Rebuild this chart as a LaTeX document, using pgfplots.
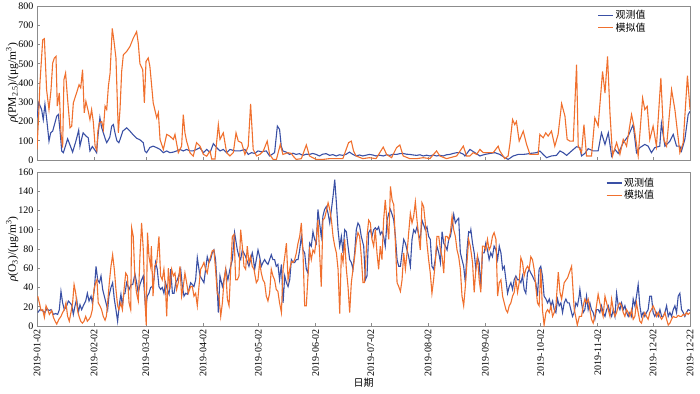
\documentclass[border=0pt]{standalone}
\usepackage{fontspec}
\setmainfont{Liberation Serif}
\newfontfamily\cjk{Noto Sans CJK SC}
\usepackage{pgfplots}
\pgfplotsset{compat=1.18}
\definecolor{obsblue}{RGB}{58,80,165}
\definecolor{simorange}{RGB}{240,112,46}
\definecolor{framegray}{RGB}{140,140,140}
\pgfplotsset{
 common/.style={
  scale only axis, width=653pt, height=154pt,
  xmin=0, xmax=354,
  xtick={0,31,59,90,120,151,181,212,243,273,304,334,354},
  xtick pos=bottom, ytick pos=left,
  axis line style={framegray, line width=0.8pt},
  tick style={framegray, line width=0.6pt},
  major tick length=3pt,
  tick label style={font=\fontsize{10}{12}\selectfont},
  /pgf/number format/assume math mode=true,
  legend style={draw=none, fill=none, font=\cjk\fontsize{10}{12}\selectfont, row sep=-1.5pt, inner sep=0pt, anchor=north west},
  legend cell align=left,
  legend image code/.code={\draw[##1] (0pt,0pt) -- (15pt,0pt);},
  ylabel style={at={(axis description cs:-0.038,0.5)}, anchor=center, font=\fontsize{11.5}{13}\selectfont},
 },
 obs/.style={obsblue, line width=1.1pt},
 sim/.style={simorange, line width=1.1pt},
}
\begin{document}
\begin{tikzpicture}[x=1pt,y=1pt]
\begin{axis}[common, at={(37pt,233pt)}, anchor=south west,
  ymin=0, ymax=800, ytick={0,100,...,800}, xticklabels={},
  ylabel={\textit{ρ}(PM\textsubscript{2.5})/(μg/m\textsuperscript{3})},
  legend style={at={(axis description cs:0.858,0.985)}}]
\addplot[obs] coordinates {(0,220)(1,297)(2.5,262)(3.4,210)(4.3,290)(5.4,200)(6.5,98)(7.4,141)(8.5,150)(9.5,185)(10.7,228)(11.6,236)(12.5,150)(13.4,47)(14.3,38)(15.5,75)(16.6,110)(18,75)(19.3,41)(21,95)(22.6,155)(23.3,72)(24.2,110)(25,141)(26.5,125)(27.8,115)(28.7,47)(30,70)(31.5,50)(32.3,38)(33,120)(34.1,220)(35,170)(36,140)(37,110)(37.8,90)(38.7,105)(39.5,120)(40.5,176)(41.4,184)(42.3,140)(43.3,100)(44.4,90)(45.5,120)(46.5,150)(48.6,167)(50.4,150)(52.2,130)(54,113)(55.8,105)(57.6,90)(58.5,47)(59.4,38)(61.2,65)(63,72)(64.9,64)(66.7,55)(68.5,38)(70.3,47)(72.1,38)(73.9,41)(75.7,47)(77.5,55)(79.3,47)(81.1,55)(82.9,47)(84.7,47)(86.5,55)(88.3,64)(90.2,38)(92,55)(93.8,38)(95.6,85)(97.4,64)(99.2,47)(101,55)(102.8,38)(104.6,55)(107.3,47)(110,47)(112.7,55)(114.5,29)(116.3,38)(118.1,34)(119.8,47)(121.6,43)(124.3,47)(126.1,21)(128.8,38)(130.3,176)(131.5,159)(132.4,72)(133.3,47)(135.1,41)(136.9,29)(138.7,35)(140.5,29)(142.3,33)(144.1,24)(145.9,30)(147.7,29)(149.5,34)(151.3,29)(153.1,21)(154.9,30)(156.7,33)(158.6,24)(160.4,28)(162.2,21)(164,27)(165.8,24)(167.6,30)(169.4,41)(171.2,29)(173,21)(174.8,26)(176.6,21)(178.4,25)(180.2,29)(182,26)(183.8,21)(185.7,25)(187.7,21)(189.5,27)(191.3,24)(193.1,30)(194.9,29)(196.7,33)(198.5,34)(200.3,30)(202.1,29)(204,26)(205.8,24)(207.6,27)(209.4,21)(211.2,25)(213,21)(214.8,26)(216.6,21)(218.4,24)(220.2,21)(222,27)(223.8,29)(225.6,34)(227.5,38)(229.3,38)(231.1,30)(232,21)(234.7,55)(237.4,38)(240.1,21)(242.8,29)(245.5,34)(248.2,38)(250.9,29)(253.6,12)(255.4,3)(258.2,21)(260.9,29)(263.6,29)(265.4,31)(267.2,34)(269,36)(270.8,38)(272.6,47)(274.4,29)(276.2,12)(278.9,21)(281.6,24)(283.5,47)(285.3,38)(287.1,24)(289.8,47)(292.5,69)(294.3,64)(295.2,21)(297,34)(298.8,59)(301.5,47)(304.2,47)(306,141)(307.9,81)(309.7,141)(311.5,21)(313.3,55)(315.1,34)(317.8,90)(320.5,124)(323.2,184)(325,38)(326.8,64)(329.5,81)(331.3,72)(333.1,38)(334.9,64)(337.6,72)(338.5,190)(340.4,72)(343.1,98)(344.9,133)(346.7,72)(348.5,72)(349.4,47)(351.2,107)(353,236)(354,253)};
\addlegendentry{观测值}
\addplot[sim] coordinates {(0,55)(0.9,230)(1.6,400)(3.1,624)(4,630)(5.2,365)(6.5,262)(7.6,365)(8.5,503)(9.4,530)(10.3,538)(11,280)(12.1,348)(13,141)(13.9,65)(14.6,417)(15.5,452)(16.6,314)(17.9,167)(18.8,175)(19.7,297)(21.5,350)(22.8,391)(23.7,375)(24.7,469)(25.6,245)(26.5,305)(27.8,253)(28.7,210)(29.6,262)(30.5,200)(31.5,72)(32.4,50)(33,150)(33.8,193)(35.1,200)(36,160)(36.9,280)(37.8,262)(38.7,383)(39.6,450)(40.8,684)(41.7,620)(42.8,530)(44.1,141)(45,262)(45.9,460)(46.8,546)(48.6,564)(50.4,590)(52.2,633)(54,667)(54.9,607)(55.8,500)(57.3,469)(58.2,297)(59.1,512)(60.3,530)(61.2,486)(63,297)(64.9,219)(65.8,245)(66.7,107)(68.5,55)(70.3,133)(72,124)(73.9,107)(74.8,133)(76.6,38)(78.4,72)(79.3,236)(80.2,141)(81.1,98)(82.9,38)(84.7,20)(86.5,90)(88.4,72)(90.2,29)(92,20)(93.8,47)(94.7,5)(96.5,5)(98.3,184)(99.2,107)(101,141)(102.8,38)(104.6,21)(106.4,38)(107.9,141)(109.1,98)(110.9,90)(112.7,29)(114.5,72)(115.8,291)(117.2,55)(119,21)(120.8,29)(122.7,47)(124.8,98)(126.1,29)(128,3)(129.8,3)(131.9,81)(133.3,29)(136,38)(137.9,34)(138.8,21)(140.5,3)(143.3,7)(146,78)(147.7,21)(151.3,3)(155,3)(158.6,7)(162.2,7)(165.8,7)(168.9,90)(170.4,98)(171.6,47)(173,21)(176.6,7)(180.2,12)(183.8,7)(187.7,67)(189.5,29)(192.2,12)(194.9,64)(196.7,78)(198.5,21)(202.1,7)(205.8,7)(209.4,12)(213,7)(216.6,47)(218.4,21)(222,7)(227.5,21)(231.1,72)(232.9,21)(234.7,21)(236.5,38)(238.3,29)(240.1,55)(241.9,38)(244.6,38)(247.3,38)(250,72)(250.9,47)(253.6,7)(255.4,21)(256.4,86)(257.8,210)(259,184)(259.9,200)(261.4,98)(263.6,150)(265.4,81)(267.2,29)(269.9,29)(271.7,29)(272.6,133)(274.4,115)(275.8,141)(277.1,124)(278.9,150)(280.7,72)(282.5,133)(284.4,293)(286.2,228)(287.4,107)(288.9,98)(290.7,98)(292.5,495)(293.4,72)(295.2,38)(296.5,184)(297.9,21)(300.6,21)(302.4,219)(304.2,176)(306.6,460)(307.9,348)(309.3,538)(310.6,245)(312,21)(314.2,90)(316,29)(317.8,107)(319.6,72)(322.3,236)(323.6,176)(325.9,21)(328.3,322)(329.5,262)(330.8,279)(332.2,107)(334,176)(335.8,72)(338.2,426)(339.8,107)(341.3,72)(344,365)(345.8,262)(348.5,38)(350.3,90)(352.6,438)(354,262)};
\addlegendentry{模拟值}
\end{axis}
\begin{axis}[common, at={(37pt,67pt)}, anchor=south west,
  ymin=0, ymax=160, ytick={0,20,...,160},
  xticklabels={2019-01-02,2019-02-02,2019-03-02,2019-04-02,2019-05-02,2019-06-02,2019-07-02,2019-08-02,2019-09-02,2019-10-02,2019-11-02,2019-12-02,2019-12-22},
  x tick label style={rotate=90, anchor=east},
  xlabel={\cjk 日期},
  xlabel style={at={(axis description cs:0.5,-0.37)}, anchor=center, font=\fontsize{10}{12}\selectfont},
  ylabel={\textit{ρ}(O\textsubscript{3})/(μg/m\textsuperscript{3})},
  legend style={at={(axis description cs:0.871,0.975)}}]
\addplot[obs] coordinates {(0.4,14)(1.6,17)(2.9,16)(4.3,14)(5.4,18)(6.5,16)(7.6,17)(8.9,12)(10.1,13)(11.2,12)(12.1,17)(13,36)(13.9,24)(14.8,17)(16.1,21)(17,26)(17.9,24)(18.8,22)(19.7,12)(20.6,21)(21.5,28)(22.4,14)(23.3,22)(24.2,17)(25.1,21)(26.4,26)(27.3,34)(28.2,26)(29.3,31)(30,24)(31.1,38)(32,62)(32.9,48)(33.8,45)(34.7,52)(35.6,38)(36.5,31)(37.4,24)(38.3,17)(39,31)(40.1,40)(41,45)(41.9,28)(42.8,17)(43.7,5)(44.6,22)(45.5,33)(46.3,21)(47,33)(47.7,34)(48.6,45)(49.9,38)(51,43)(51.9,43)(53.1,54)(54,45)(54.9,34)(55.8,43)(56.7,48)(57.6,52)(58.9,17)(59.8,31)(60.7,34)(61.6,40)(62.5,41)(63.4,48)(64.3,66)(65.2,59)(66.1,41)(67,38)(67.9,40)(68.8,34)(69.7,45)(70.6,38)(71.6,33)(72.5,59)(73.4,34)(74.3,34)(75.2,45)(76.1,48)(77.9,59)(78.8,41)(79.7,31)(80.6,34)(81.5,33)(82.4,38)(83.3,45)(84.2,43)(85.1,41)(86,48)(86.9,71)(87.8,59)(88.4,52)(89.6,48)(90.5,45)(91.4,59)(92.3,72)(93.2,66)(94.1,69)(95,76)(95.9,79)(96.8,69)(97.7,40)(98.3,14)(99.2,52)(100.5,41)(101.4,48)(102.3,59)(103.5,48)(104.6,59)(105.9,69)(107.1,97)(108.6,79)(109.5,72)(110.4,69)(111.3,79)(113.1,72)(114.9,62)(116.7,76)(117.1,72)(118,59)(118.9,69)(119.8,79)(120.7,72)(121.6,62)(122.5,66)(123.4,69)(124.3,66)(125.2,64)(126.1,69)(127,74)(127.9,69)(128.8,69)(129.7,62)(130.6,64)(131.5,48)(132.5,64)(133.4,24)(134.3,52)(135.2,45)(136.1,41)(137,48)(137.9,69)(138.8,66)(139.7,66)(140.6,69)(141.5,69)(142.4,79)(143.3,93)(144.2,79)(145.1,76)(146,59)(146.9,55)(147.8,86)(148.7,83)(149.6,98)(150.5,90)(151.4,86)(152.3,121)(153.2,107)(154.1,93)(155,114)(155.9,121)(156.8,124)(157.8,117)(158.7,107)(159.6,121)(160.5,135)(161.4,152)(162.3,128)(163.2,100)(164.1,83)(165,93)(165.9,76)(166.8,100)(167.7,98)(168.6,83)(169.5,69)(170.4,66)(171.3,59)(172.2,76)(173.1,100)(174,107)(174.9,104)(175.8,93)(176.2,90)(177.1,83)(178,48)(178.9,52)(179.8,97)(180.7,100)(181.6,93)(182.5,100)(183.4,102)(184.3,100)(185.2,103)(186.1,95)(187,98)(187.9,93)(188.8,83)(189.8,110)(190.7,117)(191.6,121)(192.5,116)(193.4,110)(194.3,93)(195.2,69)(196.1,62)(197,62)(197.9,76)(198.8,90)(199.7,86)(200.6,79)(201.5,72)(202.4,62)(203.3,90)(204.2,100)(205.1,97)(206,103)(206.9,95)(207.8,90)(208.7,110)(209.6,105)(210.5,100)(211.4,103)(212.3,93)(213.2,90)(214.1,62)(215,59)(215.9,69)(216.8,83)(217.8,76)(218.7,66)(219.6,98)(220.5,86)(221.4,83)(222.3,79)(223.2,90)(224.1,93)(225,103)(225.9,116)(226.8,107)(227.7,110)(228.6,112)(229.5,76)(230.4,69)(231.3,62)(232.2,45)(233.1,79)(234,98)(234.9,97)(235.2,100)(236.1,86)(237,76)(237.9,59)(238.8,72)(239.7,66)(240.6,41)(241.5,76)(242.4,76)(243.3,86)(244.2,79)(245.1,69)(246,76)(246.9,72)(247.8,83)(248.8,79)(249.7,69)(250.6,83)(251.5,76)(252.4,59)(253.3,62)(254.2,48)(255.1,34)(256,41)(256.9,45)(257.8,38)(258.7,48)(259.6,52)(260.5,48)(261.4,48)(262.3,45)(263.2,52)(264.1,38)(265,34)(265.9,55)(266.8,59)(267.7,55)(268.6,52)(269.5,48)(270.4,45)(271.3,31)(272.2,59)(273.1,62)(274,52)(274.9,31)(275.9,28)(276.8,24)(277.7,28)(278.6,21)(279.5,26)(280.4,17)(281.3,14)(282.2,28)(283.1,21)(284,24)(284.9,14)(285.8,24)(286.7,28)(287.6,24)(288.5,24)(289.4,17)(290.3,10)(291.2,14)(292.1,24)(293,21)(293.9,31)(294.3,38)(295.2,24)(296.1,14)(297,17)(297.9,31)(298.8,17)(299.7,24)(300.6,17)(301.5,14)(302.4,7)(303.3,17)(304.2,17)(305.1,14)(306,21)(306.9,14)(307.9,10)(308.8,17)(309.7,21)(310.6,14)(311.5,10)(312.4,17)(313.3,10)(314.2,34)(315.1,21)(316,17)(316.9,24)(317.8,17)(318.7,21)(319.6,14)(320.5,10)(321.4,14)(322.3,10)(323.2,28)(324.1,21)(325,31)(325.9,43)(326.8,21)(327.7,10)(328.6,14)(329.5,10)(330.4,14)(331.3,17)(332.2,31)(333.1,31)(334,14)(334.9,10)(335.9,14)(336.8,10)(337.7,17)(338.6,10)(339.5,10)(340.4,14)(341.3,21)(342.2,10)(343.1,14)(344,10)(344.9,17)(345.8,21)(346.7,14)(347.6,31)(348.5,34)(349.4,17)(350.3,14)(351.2,10)(352.1,14)(353,17)(354,16)};
\addlegendentry{观测值}
\addplot[sim] coordinates {(0.4,31)(1.3,24)(2.2,16)(3.1,17)(4,9)(4.9,21)(5.8,17)(6.7,12)(8,16)(8.9,9)(9.8,5)(10.7,2)(11.9,7)(13,10)(13.9,14)(14.8,17)(15.7,24)(16.6,10)(17.5,5)(18.4,14)(19.3,24)(20.1,43)(21,34)(21.9,17)(22.8,10)(23.7,5)(24.6,3)(25.5,5)(26.4,10)(27.3,5)(28.2,7)(29.1,10)(30,17)(30.9,38)(31.8,45)(32.5,48)(33.2,24)(34.1,21)(35,17)(35.9,10)(36.9,6)(37.6,10)(38.3,24)(39.2,45)(40.1,62)(41,74)(41.9,59)(42.8,38)(43.7,21)(44.4,17)(45.4,24)(46.3,17)(47.2,38)(48.1,55)(49,52)(49.9,24)(50.8,17)(51.3,102)(52.2,93)(53.1,48)(54,34)(54.9,26)(55.8,72)(56.7,107)(57.6,80)(58.5,30)(59.2,1)(59.9,97)(60.7,72)(61.6,62)(62,83)(62.9,31)(63.8,62)(64.9,66)(66.1,93)(67,52)(67.9,48)(68.8,59)(69.7,38)(70.3,10)(71.2,60)(72.1,38)(73,59)(73.9,52)(74.8,55)(75.7,38)(76.6,45)(77.5,62)(78.4,31)(79.3,41)(80.2,55)(81.1,45)(82,34)(83.3,41)(84.2,41)(85.1,31)(86,34)(86.9,21)(87.8,41)(88.7,59)(89.6,62)(90.5,66)(91.4,59)(92.3,55)(93.2,66)(94.1,72)(95,78)(95.9,79)(96.8,59)(97.7,34)(98.6,31)(99.6,10)(100.5,24)(101.4,48)(102.3,59)(103.2,28)(104.1,21)(105,59)(105.9,93)(106.8,95)(107.7,48)(108.6,48)(109.5,52)(110.4,100)(111.3,83)(112.2,62)(113.1,59)(114,83)(114.9,66)(115.8,72)(116.7,62)(117.6,59)(118.9,45)(119.8,48)(120.7,66)(121.6,55)(122.5,48)(123.4,45)(124.3,31)(125.2,26)(126.1,34)(127,59)(127.9,52)(128.8,48)(129.7,38)(130.6,36)(131.5,24)(132.5,14)(133.4,59)(134.3,72)(135.2,86)(136.1,48)(137,59)(137.9,67)(138.8,66)(139.7,69)(140.6,76)(141.5,86)(142.4,93)(143.3,107)(144.2,76)(145.1,21)(146,21)(146.9,52)(147.8,79)(148.7,69)(149.6,79)(150.5,76)(151.4,90)(152.3,110)(153.2,76)(154.1,41)(155,110)(155.9,112)(156.8,119)(157.8,128)(158.7,121)(159.6,110)(160.5,93)(161.4,83)(162.3,76)(163.2,59)(164.1,13)(165,76)(165.9,66)(166.8,90)(167.7,59)(168.6,41)(169.5,14)(170.4,45)(171.3,59)(172.2,72)(173.1,88)(174,97)(174.9,93)(175.8,72)(176.7,45)(177.5,45)(178,59)(178.9,93)(179.8,110)(180.7,107)(181.6,90)(182.5,83)(183.4,100)(184.3,76)(185.2,59)(186.1,83)(187,69)(187.9,110)(188.8,131)(189.8,107)(190.7,90)(191.6,145)(192.5,131)(193.4,126)(194.3,86)(195.2,45)(196.1,41)(197,36)(197.9,48)(198.8,76)(199.7,59)(200.6,76)(201.5,97)(202.4,117)(203.3,107)(204.2,114)(205.1,129)(206,110)(206.9,93)(207.8,79)(208.7,128)(209.6,124)(210.5,107)(211.4,86)(212.3,69)(213.2,55)(214.1,34)(215,48)(215.9,66)(216.8,93)(217.8,93)(218.7,79)(219.6,72)(220.5,55)(221.4,93)(222.3,93)(223.2,90)(224.1,97)(225,114)(225.9,100)(226.8,93)(227.7,79)(228.6,72)(229.5,59)(230.4,31)(231.3,21)(232.2,41)(233.1,66)(234,90)(234.9,83)(236.1,66)(237,35)(237.9,59)(238.8,72)(239.7,48)(240.6,35)(241.5,83)(242.4,83)(243.3,79)(244.2,90)(245.1,79)(246,83)(246.9,93)(247.8,97)(248.8,90)(249.7,31)(250.6,45)(251.5,48)(252.4,31)(253.3,24)(254.2,17)(255.1,14)(256,21)(256.9,24)(257.8,31)(258.7,35)(259.6,48)(260.5,35)(261.4,45)(262.3,71)(263.2,66)(264.1,52)(265,59)(265.9,62)(266.8,59)(267.7,72)(268.6,69)(269.5,59)(270.4,41)(271.3,24)(272.2,21)(273.1,59)(274,17)(274.9,1)(275.9,14)(276.8,17)(277.7,14)(278.6,21)(279.5,10)(280.4,14)(281.3,21)(282.6,56)(283.5,35)(284.4,28)(285.8,45)(287.6,50)(289.8,62)(291.2,18)(292.9,1)(294,10)(295.2,10)(296.1,21)(297,28)(297.9,24)(298.8,28)(299.7,17)(300.6,7)(301.5,3)(302.4,10)(303.3,21)(304.2,33)(305.1,24)(306,17)(306.9,10)(307.9,31)(308.8,24)(309.7,17)(310.6,10)(311.5,28)(312.4,17)(313.3,10)(314.2,14)(315.1,21)(316,24)(316.9,21)(317.8,14)(318.7,10)(319.6,17)(320.5,14)(321.4,10)(322.3,17)(323.2,7)(324.1,10)(325,24)(325.9,14)(326.8,5)(327.7,3)(328.6,10)(329.5,14)(330.4,10)(331.3,7)(332.2,14)(333.1,17)(334,21)(334.9,17)(335.9,10)(336.8,14)(337.7,10)(338.6,7)(339.5,10)(340.4,14)(341.3,7)(342.2,1)(343.1,3)(344,7)(344.9,10)(345.8,9)(346.7,9)(347.6,11)(348.5,10)(349.4,10)(350.3,12)(351.2,11)(352.1,14)(353,12)(354,14)};
\addlegendentry{模拟值}
\end{axis}
\pgfresetboundingbox
\path[use as bounding box] (0,0) rectangle (700,393);
\end{tikzpicture}
\end{document}
